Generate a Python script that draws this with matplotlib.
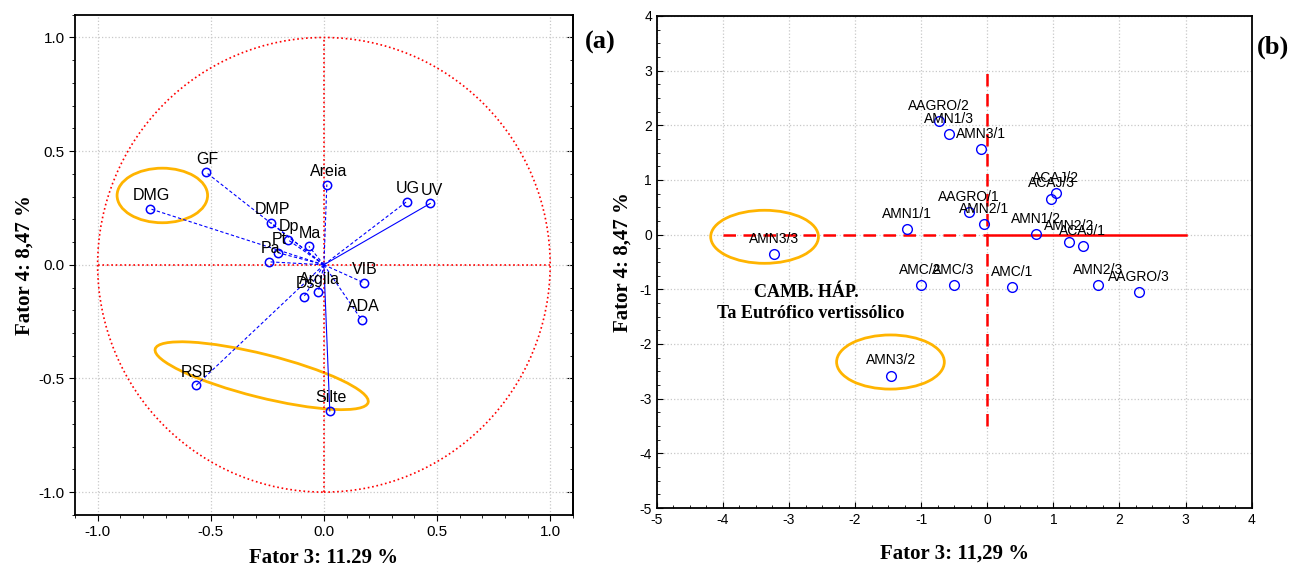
import matplotlib
matplotlib.use("Agg")
import matplotlib.pyplot as plt
import numpy as np
from matplotlib.patches import Ellipse, Circle
from matplotlib.ticker import MultipleLocator

plt.rcParams['font.family'] = ['Liberation Sans', 'DejaVu Sans']
plt.rcParams['axes.unicode_minus'] = False

# (a) variables - factor loadings
var_names = ["GF", "DMG", "Areia", "UG", "UV", "DMP", "Dp", "Pt", "Ma", "Pa",
             "VIB", "ADA", "Argila", "Ds", "RSP", "Silte"]
var_x = [-0.52, -0.77, 0.013, 0.366, 0.47, -0.233, -0.159, -0.203, -0.066, -0.242,
         0.176, 0.167, -0.025, -0.088, -0.564, 0.026]
var_y = [0.406, 0.247, 0.353, 0.278, 0.27, 0.185, 0.11, 0.053, 0.081, 0.013,
         -0.079, -0.243, -0.12, -0.14, -0.53, -0.643]
var_solid = ["UV", "Silte"]

# (b) cases - factor scores
case_names = ["AAGRO/2", "AMN1/3", "AMN3/1", "ACAJ/2", "ACAJ/3", "AAGRO/1", "AMN2/1",
              "AMN1/1", "AMN1/2", "AMN2/2", "ACAJ/1", "AMC/2", "AMC/3", "AMC/1",
              "AMN2/3", "AAGRO/3", "AMN3/3", "AMN3/2"]
case_x = [-0.735, -0.574, -0.096, 1.04, 0.967, -0.28, -0.045, -1.22, 0.735, 1.24,
          1.445, -1.01, -0.51, 0.373, 1.68, 2.30, -3.23, -1.45]
case_y = [2.08, 1.84, 1.56, 0.757, 0.658, 0.41, 0.19, 0.099, 0.007, -0.128,
          -0.207, -0.93, -0.93, -0.96, -0.93, -1.05, -0.36, -2.58]

xlabel_a = "Fator 3: 11.29 %"
xlabel_b = "Fator 3: 11,29 %"
ylabel = "Fator 4: 8,47 %"
gold = "#FFB400"
serif = ['Liberation Serif', 'DejaVu Serif']

fig = plt.figure(figsize=(12.93, 5.67), dpi=100)
ax1 = fig.add_axes([0.058, 0.092, 0.385, 0.882])
ax2 = fig.add_axes([0.508, 0.104, 0.460, 0.868])

# ---- panel (a)
ax1.set_xlim(-1.1, 1.1)
ax1.set_ylim(-1.1, 1.1)
ax1.xaxis.set_major_locator(MultipleLocator(0.5))
ax1.yaxis.set_major_locator(MultipleLocator(0.5))
ax1.xaxis.set_minor_locator(MultipleLocator(0.1))
ax1.yaxis.set_minor_locator(MultipleLocator(0.1))
ax1.grid(True, color="#c8c8c8", linestyle=":", linewidth=0.9)
ax1.set_axisbelow(True)
ax1.add_patch(Circle((0, 0), 1.0, fill=False, edgecolor="red", linestyle=":", linewidth=1.2))
ax1.plot([-1, 1], [0, 0], color="red", linestyle=":", linewidth=1.2)
ax1.plot([0, 0], [-1, 1], color="red", linestyle=":", linewidth=1.2)

for name, x, y in zip(var_names, var_x, var_y):
    if name in var_solid:
        ax1.plot([0, x], [0, y], color="blue", linestyle="-", linewidth=0.8)
    else:
        ax1.plot([0, x], [0, y], color="blue", linestyle="--", linewidth=0.8, dashes=(3, 2))
    ax1.annotate(name, (x, y), xytext=(1, 9.4), textcoords="offset points",
                 ha="center", va="center", fontsize=11.5)
ax1.plot(var_x, var_y, "o", markerfacecolor="none", markeredgecolor="blue",
         markersize=6, markeredgewidth=1.1, linestyle="none")

ax1.add_patch(Ellipse((-0.714, 0.305), 0.40, 0.24, fill=False, edgecolor=gold, linewidth=2))
ax1.add_patch(Ellipse((-0.275, -0.488), 0.97, 0.19, angle=-14, fill=False, edgecolor=gold, linewidth=2))

ax1.tick_params(which="both", direction="out", labelsize=11)
ax1.tick_params(which="major", length=4)
ax1.tick_params(which="minor", length=2.5)
ax1r = ax1.secondary_yaxis("right")
ax1r.yaxis.set_major_locator(MultipleLocator(0.5))
ax1r.yaxis.set_minor_locator(MultipleLocator(0.1))
ax1r.tick_params(which="both", direction="in", labelright=False)
ax1r.tick_params(which="major", length=4)
ax1r.tick_params(which="minor", length=2.5)
ax1r.spines["right"].set_linewidth(1.3)
for s in ax1.spines.values():
    s.set_linewidth(1.3)
ax1.set_xlabel(xlabel_a, family=serif, fontweight="bold", fontsize=15, labelpad=6)
ax1.set_ylabel(ylabel, family=serif, fontweight="bold", fontsize=15, labelpad=3)
ax1.text(1.22, 0.98, "(a)", family=serif, fontweight="bold",
         fontsize=19, ha="center", va="center", clip_on=False)

# ---- panel (b)
ax2.set_xlim(-5, 4)
ax2.set_ylim(-5, 4)
ax2.xaxis.set_major_locator(MultipleLocator(1))
ax2.yaxis.set_major_locator(MultipleLocator(1))
ax2.xaxis.set_minor_locator(MultipleLocator(0.25))
ax2.yaxis.set_minor_locator(MultipleLocator(0.25))
ax2.grid(True, color="#c8c8c8", linestyle=":", linewidth=0.9)
ax2.set_axisbelow(True)

ax2.plot([-4, 0], [0, 0], color="red", linestyle="--", linewidth=1.8, dashes=(5, 3))
ax2.plot([0, 3], [0, 0], color="red", linestyle="-", linewidth=1.8)
ax2.plot([0, 0], [-3.5, 3], color="red", linestyle="--", linewidth=1.8, dashes=(5, 3))

ax2.plot(case_x, case_y, "o", markerfacecolor="none", markeredgecolor="blue",
         markersize=7, markeredgewidth=1.0, linestyle="none")
for name, x, y in zip(case_names, case_x, case_y):
    ax2.annotate(name, (x, y), xytext=(0, 11), textcoords="offset points",
                 ha="center", va="center", fontsize=10)

ax2.add_patch(Ellipse((-3.37, -0.04), 1.63, 0.97, fill=False, edgecolor=gold, linewidth=2))
ax2.add_patch(Ellipse((-1.465, -2.33), 1.63, 0.99, fill=False, edgecolor=gold, linewidth=2))

ax2.text(-2.74, -1.05, "CAMB. HÁP.", family=serif, fontweight="bold", fontsize=13,
         ha="center", va="center")
ax2.text(-2.67, -1.45, "Ta Eutrófico vertissólico", family=serif, fontweight="bold",
         fontsize=13, ha="center", va="center")

ax2.tick_params(which="both", direction="in", labelsize=10)
ax2.tick_params(which="major", length=4)
ax2.tick_params(which="minor", length=2.5)
for s in ax2.spines.values():
    s.set_linewidth(1.3)
ax2.set_xlabel(xlabel_b, family=serif, fontweight="bold", fontsize=15, labelpad=12)
ax2.set_ylabel(ylabel, family=serif, fontweight="bold", fontsize=15, labelpad=5)
ax2.text(4.32, 3.43, "(b)", family=serif, fontweight="bold", fontsize=19,
         ha="center", va="center", clip_on=False)

fig.savefig("out.png", dpi=100)
